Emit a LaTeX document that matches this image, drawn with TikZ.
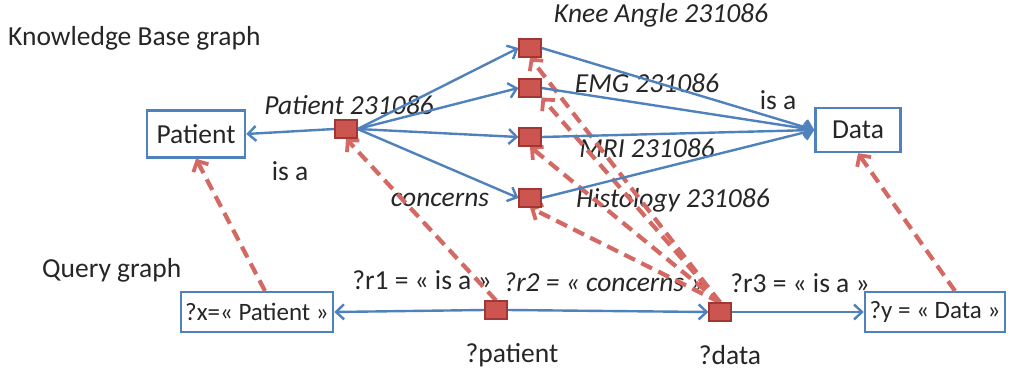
\documentclass[tikz,border=0pt]{standalone}
\usepackage{fontspec}
\setmainfont{Carlito}
\usetikzlibrary{arrows.meta}
\definecolor{kbblue}{RGB}{79,129,189}
\definecolor{sqred}{RGB}{205,85,80}
\definecolor{sqborder}{RGB}{160,55,50}
\definecolor{dashred}{RGB}{212,104,98}
\tikzset{
  lbl/.style={font=\fontsize{27.5}{32}\selectfont, inner sep=0pt, text=black!85},
  ilbl/.style={lbl, font=\fontsize{27.5}{32}\selectfont\itshape},
  cbox/.style={draw=kbblue, line width=2.5pt, fill=white, font=\fontsize{27.5}{32}\selectfont, text=black!85, inner sep=0pt},
  qbox/.style={cbox, font=\fontsize{25}{28}\selectfont},
  sq/.style={draw=sqborder, line width=1.2pt, fill=sqred, minimum width=22pt, minimum height=18pt, inner sep=0pt},
  barrow/.style={draw=kbblue, line width=2.4pt, -{Straight Barb[length=8pt,width=15pt,line width=2.4pt]}},
  rarrow/.style={draw=dashred, line width=4.2pt, dash pattern=on 12pt off 7pt, -{Straight Barb[length=8pt,width=17pt,line width=3.8pt]}}
}
\begin{document}
\begin{tikzpicture}[x=1pt,y=-1pt]
\useasboundingbox (0,0) rectangle (1011,374);
% texts
\node[lbl, anchor=west] (kbt) at (8,38) {Knowledge Base graph};
\node[lbl, anchor=west] (qgt) at (42,270) {Query graph};
% KB nodes
\node[cbox, minimum width=98pt, minimum height=47pt] (pat) at (196,134) {Patient};
\node[cbox, minimum width=85pt, minimum height=44pt] (data) at (858,130) {Data};
\node[sq] (p0) at (346,129) {};
\node[sq] (knee) at (530,48) {};
\node[sq] (emg) at (530,88) {};
\node[sq] (mri) at (530,137) {};
\node[sq] (hist) at (530,198) {};
% KB labels
\node[ilbl] (lp0) at (349,105) {Patient 231086};
\node[ilbl] (lknee) at (661,15) {Knee Angle 231086};
\node[ilbl] (lemg) at (647,83) {EMG 231086};
\node[ilbl] (lmri) at (647,148) {MRI 231086};
\node[ilbl] (lhist) at (673,200) {Histology 231086};
\node[lbl] (isa1) at (290,171) {is a};
\node[lbl] (isa2) at (778,100) {is a};
\node[ilbl] (conc) at (440,200) {concerns};
% Query nodes
\node[qbox, minimum width=152pt, minimum height=40pt] (qx) at (257,312) {?x=« Patient »};
\node[qbox, minimum width=140pt, minimum height=40pt] (qy) at (935,312) {?y = « Data »};
\node[sq] (qp) at (496,310) {};
\node[sq] (qd) at (720,312) {};
\node[lbl] (lr1) at (422,280) {?r1 = « is a »};
\node[ilbl] (lr2) at (604,282) {?r2 = « concerns »};
\node[lbl] (lr3) at (800,283) {?r3 = « is a »};
\node[lbl] (lqp) at (512,355) {?patient};
\node[lbl] (lqd) at (730,355) {?data};
% dashed red mapping arrows (behind)
\draw[rarrow] (265,291) -- (pat.south);
\draw[rarrow] (qp.north) -- (p0.south);
\draw[rarrow] (qd.north) -- (knee.south);
\draw[rarrow] (qd.north) -- (emg.south east);
\draw[rarrow] (qd.north) -- (mri.south);
\draw[rarrow] (qd.north) -- (hist.south);
\draw[rarrow] (955,291) -- (data.south);
% blue KB arrows
\draw[barrow] (p0.west) -- (pat.east);
\foreach \n in {knee,emg,mri,hist}{
  \draw[barrow] (p0.east) -- (\n.west);
  \draw[barrow] (\n.east) -- (data.west);
}
% blue query arrows
\draw[barrow] (qp.west) -- (qx.east);
\draw[barrow] (qp.east) -- (qd.west);
\draw[barrow] (qd.east) -- (qy.west);
% redraw squares on top
\foreach \n in {p0,knee,emg,mri,hist,qp,qd}{
  \node[sq] at (\n) {};
}
\end{tikzpicture}
\end{document}
